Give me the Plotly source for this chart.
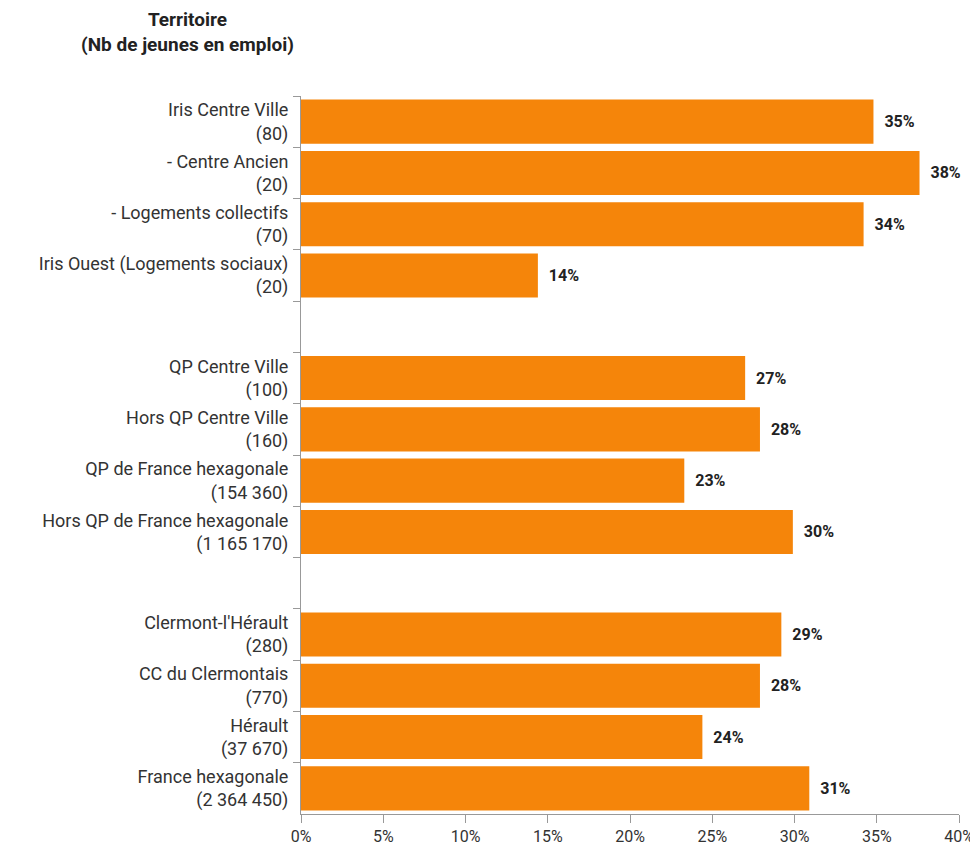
import plotly.graph_objects as go

# categories top -> bottom, blank entries are the gaps between groups
territoires = [
    "Iris Centre Ville<br>(80)",
    "- Centre Ancien<br>(20)",
    "- Logements collectifs<br>(70)",
    "Iris Ouest (Logements sociaux)<br>(20)",
    " ",
    "QP Centre Ville<br>(100)",
    "Hors QP Centre Ville<br>(160)",
    "QP de France hexagonale<br>(154 360)",
    "Hors QP de France hexagonale<br>(1 165 170)",
    "  ",
    "Clermont-l'Hérault<br>(280)",
    "CC du Clermontais<br>(770)",
    "Hérault<br>(37 670)",
    "France hexagonale<br>(2 364 450)",
]
part_emploi = [34.8, 37.6, 34.2, 14.4, None, 27.0, 27.9, 23.3, 29.9, None, 29.2, 27.9, 24.4, 30.9]
labels = ["" if v is None else "\u00a0\u00a0" + f"{v:.0f}%" for v in part_emploi]

x_ticks = [0, 5, 10, 15, 20, 25, 30, 35, 40]
x_ticktext = [f"{t}%" for t in x_ticks]

ORANGE = "#F5850A"

fig = go.Figure()
fig.add_trace(go.Bar(
    x=part_emploi, y=territoires, orientation="h",
    marker=dict(color=ORANGE, line=dict(width=0)),
    width=0.86,
    text=labels, textposition="outside", cliponaxis=False,
    textfont=dict(family="Roboto", size=16, color="#222222", weight="bold"),
    hoverinfo="skip",
))

# page body adds an 8px offset, so the figure is 8px smaller than the window
fig.update_layout(
    width=970, height=840,
    margin=dict(l=293, r=19, t=88, b=34, autoexpand=False),
    plot_bgcolor="white", paper_bgcolor="white",
    showlegend=False,
    font=dict(family="Roboto", size=17, color="#333333"),
)
fig.update_xaxes(
    range=[0, 40], tickvals=x_ticks, ticktext=x_ticktext,
    showgrid=False, zeroline=False, automargin=False,
    showline=True, linecolor="#999999", linewidth=1,
    ticks="outside", ticklen=8, tickcolor="#999999",
    tickfont=dict(family="Roboto", size=16, color="#333333"),
)
fig.update_yaxes(
    type="category", autorange="reversed", tickson="boundaries",
    showgrid=False, showline=True, linecolor="#999999", linewidth=1,
    ticks="outside", ticklen=7, tickcolor="#999999", automargin=False,
    ticklabelstandoff=8,
    tickfont=dict(family="Roboto", size=18, color="#333333"),
)
fig.add_annotation(
    text="<b>Territoire<br>(Nb de jeunes en emploi)</b>",
    xref="paper", yref="paper", x=-0.1726, y=1.0, yshift=90,
    xanchor="center", yanchor="top", showarrow=False, align="center",
    font=dict(family="Roboto", size=19, color="#222222"),
)

fig.write_html("out.html")
